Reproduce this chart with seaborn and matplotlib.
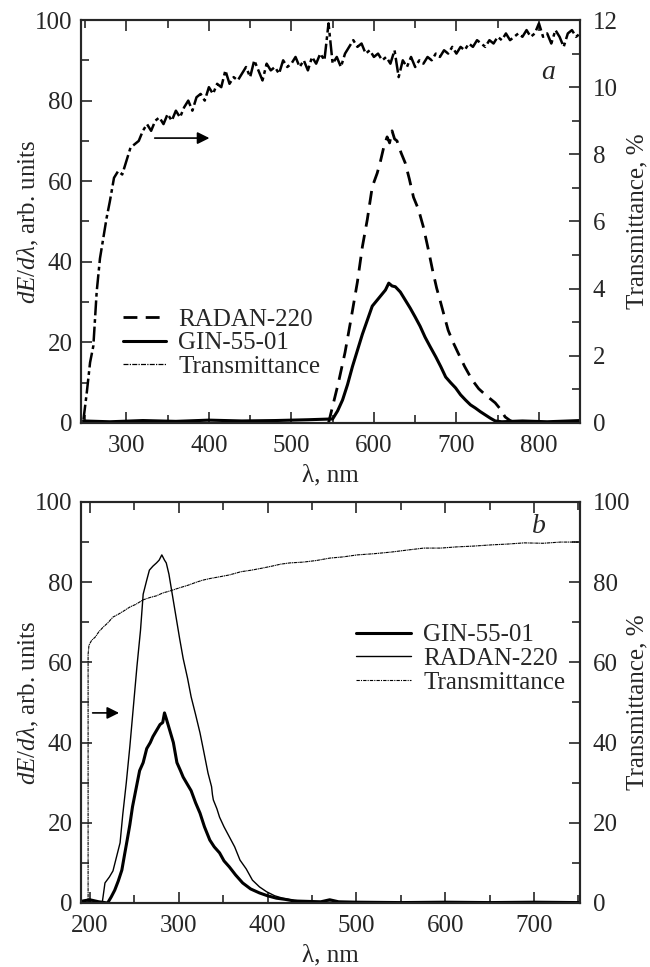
import numpy as np
import pandas as pd
import matplotlib
matplotlib.use("Agg")
import matplotlib.pyplot as plt
from matplotlib.ticker import MultipleLocator
import seaborn as sns

# ---- panel a : visible range ----
wl_ta = [248, 252, 256, 260, 264, 268, 272, 276, 280, 285, 290, 295, 300, 305, 310, 315, 320,
         325, 330, 335, 340, 345, 350, 355, 360, 365, 370, 375, 380, 385, 390, 395, 400, 405,
         410, 415, 420, 425, 430, 435, 440, 445, 450, 455, 460, 465, 470, 475, 480, 485, 490,
         495, 500, 505, 510, 515, 520, 525, 530, 535, 540, 545, 550, 555, 560, 565, 570, 575,
         580, 585, 590, 595, 600, 605, 610, 615, 620, 625, 630, 635, 640, 645, 650, 655, 660,
         665, 670, 675, 680, 685, 690, 695, 700, 705, 710, 715, 720, 725, 730, 735, 740, 745,
         750, 755, 760, 765, 770, 775, 780, 785, 790, 795, 800, 805, 810, 815, 820, 825, 830,
         835, 840, 845, 850]
trans_a = [0.1, 0.9, 1.8, 2.3, 3.9, 4.9, 5.5, 6.1, 6.6, 7.3, 7.5, 7.4, 7.8, 8.2, 8.3, 8.4, 8.7,
           8.9, 8.7, 9.0, 9.1, 8.9, 9.2, 9.0, 9.3, 9.1, 9.4, 9.6, 9.3, 9.7, 9.8, 9.6, 10.0, 9.8,
           10.1, 10.0, 10.5, 10.1, 10.3, 10.2, 10.4, 10.6, 10.3, 10.8, 10.5, 10.2, 10.7, 10.5,
           10.6, 10.4, 10.8, 10.6, 10.7, 10.9, 10.6, 10.8, 10.5, 10.9, 10.7, 11.0, 10.8, 11.9,
           10.7, 10.9, 10.6, 11.0, 11.2, 11.4, 11.2, 11.3, 11.0, 11.1, 10.9, 11.0, 10.8, 10.9,
           10.7, 11.1, 10.3, 10.8, 10.6, 10.9, 10.6, 10.8, 10.7, 10.9, 10.8, 11.0, 10.9, 11.1,
           11.0, 11.2, 11.0, 11.2, 11.1, 11.3, 11.2, 11.4, 11.3, 11.2, 11.4, 11.3, 11.5, 11.4,
           11.6, 11.4, 11.5, 11.6, 11.5, 11.7, 11.5, 11.6, 11.9, 11.5, 11.6, 11.3, 11.7, 11.5,
           11.2, 11.6, 11.7, 11.5, 11.6]

wl_radan_a = [545, 557, 565, 572, 580, 586, 592, 598, 604, 608, 612, 616, 619, 622, 625, 628,
              633, 638, 643, 648, 654, 660, 666, 671, 676, 681, 686, 690, 696, 702, 710, 719,
              727, 735, 741, 747, 753, 759, 765, 772, 790, 820, 850]
radan_a = [0.0, 10.0, 17.5, 25.5, 35.0, 43.7, 50.5, 58.6, 62.0, 65.0, 68.5, 71.0, 69.5, 72.5,
           70.5, 70.0, 67.0, 64.5, 60.5, 56.0, 53.0, 48.6, 43.0, 38.0, 33.5, 29.8, 26.0, 23.0,
           20.0, 17.4, 14.0, 10.7, 8.5, 7.0, 6.0, 5.0, 3.5, 1.5, 0.6, 0.0, 0.3, 0.0, 0.4]

wl_gin_a = [248, 280, 320, 360, 400, 440, 480, 520, 550, 556, 562, 568, 574, 580, 586, 592,
            598, 604, 610, 614, 618, 622, 626, 632, 638, 644, 650, 656, 662, 668, 675, 681,
            687, 693, 699, 705, 711, 717, 723, 729, 735, 741, 747, 755, 780, 810, 850]
gin_a = [0.5, 0.3, 0.6, 0.4, 0.7, 0.5, 0.6, 0.8, 1.0, 3.0, 5.7, 9.5, 14.0, 18.0, 22.0, 25.5,
         29.0, 30.5, 32.0, 33.0, 34.7, 34.0, 33.8, 32.5, 30.5, 28.5, 26.3, 24.0, 21.3, 19.0,
         16.4, 14.0, 11.4, 10.0, 8.7, 7.0, 5.7, 4.5, 3.7, 2.8, 2.0, 1.2, 0.5, 0.3, 0.5, 0.3, 0.6]

# ---- panel b : UV range ----
wl_tb = [198, 198, 199, 202, 206, 210, 215, 220, 226, 232, 238, 245, 252, 260, 268, 275, 282,
         290, 301, 310, 320, 327, 335, 345, 357, 370, 382, 394, 405, 415, 425, 440, 455, 470,
         485, 501, 520, 539, 557, 576, 595, 613, 632, 652, 670, 689, 710, 730, 750]
trans_b = [0.0, 62.0, 64.3, 65.5, 66.3, 67.6, 68.8, 69.8, 71.3, 72.0, 72.8, 73.8, 74.5, 75.6,
           76.2, 76.6, 77.3, 77.8, 78.6, 79.2, 80.0, 80.5, 80.9, 81.3, 81.8, 82.6, 83.0, 83.5,
           84.0, 84.5, 84.8, 85.0, 85.4, 86.0, 86.3, 86.8, 87.1, 87.5, 88.0, 88.5, 88.5, 88.8,
           89.0, 89.3, 89.5, 89.8, 89.7, 90.0, 90.0]

wl_radan_b = [192, 200, 208, 214, 217, 222, 226, 230, 234, 237, 241, 245, 249, 253, 257, 260,
              264, 267, 271, 275, 278, 281, 284, 286, 289, 292, 295, 298, 301, 305, 310, 314,
              319, 324, 328, 333, 337, 338, 339, 343, 346, 351, 357, 363, 369, 376, 383, 391,
              399, 408, 417, 426, 436, 450, 470, 500, 550, 600, 650, 700, 750]
radan_b = [0.0, 0.3, 0.0, 0.2, 5.0, 6.5, 8.0, 11.5, 15.0, 22.0, 30.0, 39.0, 49.0, 59.0, 68.0,
           77.0, 80.5, 83.0, 84.0, 84.8, 85.5, 86.8, 85.5, 84.8, 82.0, 78.0, 74.0, 70.0, 66.0,
           61.0, 56.0, 51.4, 47.0, 42.4, 38.0, 32.4, 29.0, 27.0, 25.7, 23.5, 21.4, 19.0, 16.5,
           14.0, 10.7, 8.5, 5.7, 4.0, 2.8, 1.8, 1.2, 0.8, 0.5, 0.3, 0.2, 0.1, 0.0, 0.1, 0.0,
           0.1, 0.0]

wl_gin_b = [192, 200, 210, 220, 224, 228, 232, 236, 239, 242, 245, 248, 252, 256, 260, 264,
            268, 271, 275, 279, 282, 284, 286, 290, 294, 298, 302, 305, 310, 314, 319, 324,
            329, 335, 340, 346, 351, 357, 364, 372, 381, 391, 400, 410, 420, 430, 445, 460,
            470, 480, 500, 550, 600, 650, 700, 750]
gin_b = [0.5, 0.8, 0.3, 0.0, 1.5, 3.2, 5.5, 8.2, 12.0, 15.7, 19.5, 24.0, 28.5, 33.0, 35.0,
         38.5, 40.0, 41.5, 43.0, 44.5, 45.0, 47.4, 46.0, 43.0, 40.0, 35.0, 33.0, 31.4, 29.5,
         28.0, 25.0, 22.4, 19.0, 15.7, 14.0, 12.5, 10.5, 9.0, 7.0, 5.0, 3.5, 2.5, 1.8, 1.2,
         0.9, 0.5, 0.4, 0.3, 0.8, 0.3, 0.2, 0.1, 0.2, 0.1, 0.2, 0.1]

sns.set_style("ticks")
plt.rcParams['font.family'] = ['Liberation Serif', 'DejaVu Serif']
plt.rcParams['mathtext.fontset'] = 'custom'
plt.rcParams['mathtext.rm'] = 'Liberation Serif'
plt.rcParams['mathtext.it'] = 'Liberation Serif:italic'
plt.rcParams['font.size'] = 18

fig = plt.figure(figsize=(6.5, 9.67), dpi=100, facecolor='white')
ax_a = fig.add_axes([0.1246, 0.5626, 0.768, 0.4167])
ax_b = fig.add_axes([0.1246, 0.0662, 0.768, 0.4147])


def style_axes(ax, ax2, xlim, xmaj, ylim2, ymaj2, ymin2):
    ax.set_xlim(*xlim)
    ax.set_ylim(0, 100)
    ax2.set_ylim(*ylim2)
    ax.xaxis.set_major_locator(MultipleLocator(xmaj))
    ax.xaxis.set_minor_locator(MultipleLocator(xmaj / 2))
    ax.yaxis.set_major_locator(MultipleLocator(20))
    ax.yaxis.set_minor_locator(MultipleLocator(10))
    ax2.yaxis.set_major_locator(MultipleLocator(ymaj2))
    ax2.yaxis.set_minor_locator(MultipleLocator(ymin2))
    ax.tick_params(which='both', direction='in', top=True, right=False, labelsize=18,
                   width=1.2)
    ax.tick_params(axis='x', which='both', pad=9)
    ax.tick_params(axis='y', which='both', pad=6)
    ax.tick_params(which='major', length=8)
    ax.tick_params(which='minor', length=6)
    ax2.tick_params(which='both', direction='in', labelsize=18, width=1.2, pad=9)
    ax2.tick_params(which='major', length=8)
    ax2.tick_params(which='minor', length=6)
    for a in (ax, ax2):
        for s in a.spines.values():
            s.set_linewidth(1.5)
            s.set_visible(True)
    ax.set_xlabel("λ, nm", fontsize=18)
    ax.xaxis.set_label_coords(0.5, -0.103)
    ax.set_ylabel(r"$dE/d\lambda$, arb. units", fontsize=18, va='center')
    ax.yaxis.set_label_coords(-0.106, 0.5)
    ax2.set_ylabel("Transmittance, %", fontsize=18, va='center')
    ax2.yaxis.set_label_coords(1.114, 0.5)


# panel a
t2a = ax_a.twinx()
sns.lineplot(x=wl_radan_a, y=radan_a, ax=ax_a, color='k', lw=2.0, linestyle=(0, (5, 3)),
             estimator=None, sort=False, label='RADAN-220')
sns.lineplot(x=wl_gin_a, y=gin_a, ax=ax_a, color='k', lw=2.2, estimator=None, sort=False,
             label='GIN-55-01')
sns.lineplot(x=wl_ta, y=trans_a, ax=t2a, color='k', lw=1.8, linestyle=(0, (6, 1.5, 1.5, 1.5)),
             estimator=None, sort=False, label='Transmittance')
style_axes(ax_a, t2a, (245, 850), 100, (0, 12), 2, 1)
h1, l1 = ax_a.get_legend_handles_labels()
h2, l2 = t2a.get_legend_handles_labels()
t2a.get_legend().remove()
leg_hand = h1 + h2
leg_hand[2] = plt.Line2D([], [], color='k', lw=0.9, linestyle=(0, (4, 1, 1, 1)))
ax_a.legend(leg_hand, l1 + l2, loc='lower left', bbox_to_anchor=(0.06, 0.08), frameon=False,
            fontsize=18, handlelength=1.7, handletextpad=0.5, labelspacing=0.05, borderpad=0)
ax_a.text(0.935, 0.87, "a", transform=ax_a.transAxes, fontsize=20, style='italic',
          ha='center', va='center')
ax_a.annotate("", xy=(404, 70.7), xytext=(331, 70.7),
              arrowprops=dict(arrowstyle='-|>', color='k', lw=1.2, mutation_scale=18))

# panel b
t2b = ax_b.twinx()
sns.lineplot(x=wl_gin_b, y=gin_b, ax=ax_b, color='k', lw=2.2, estimator=None, sort=False,
             label='GIN-55-01')
sns.lineplot(x=wl_radan_b, y=radan_b, ax=ax_b, color='k', lw=1.0, estimator=None, sort=False,
             label='RADAN-220')
sns.lineplot(x=wl_tb, y=trans_b, ax=t2b, color='k', lw=0.8, linestyle=(0, (3, 0.6, 1, 0.6)),
             estimator=None, sort=False, label='Transmittance')
style_axes(ax_b, t2b, (190, 752), 100, (0, 100), 20, 10)
h1, l1 = ax_b.get_legend_handles_labels()
h2, l2 = t2b.get_legend_handles_labels()
t2b.get_legend().remove()
leg_hand = h1 + h2
leg_hand[2] = plt.Line2D([], [], color='k', lw=0.8, linestyle=(0, (3, 1, 1, 1)))
ax_b.legend(leg_hand, l1 + l2, loc='lower left', bbox_to_anchor=(0.525, 0.49), frameon=False,
            fontsize=18, handlelength=2.2, handletextpad=0.5, labelspacing=0.05, borderpad=0)
ax_b.text(0.918, 0.94, "b", transform=ax_b.transAxes, fontsize=20, style='italic',
          ha='center', va='center')
ax_b.annotate("", xy=(236, 47.4), xytext=(200, 47.4),
              arrowprops=dict(arrowstyle='-|>', color='k', lw=1.2, mutation_scale=18))

fig.savefig("out.png", dpi=100, facecolor='white')
